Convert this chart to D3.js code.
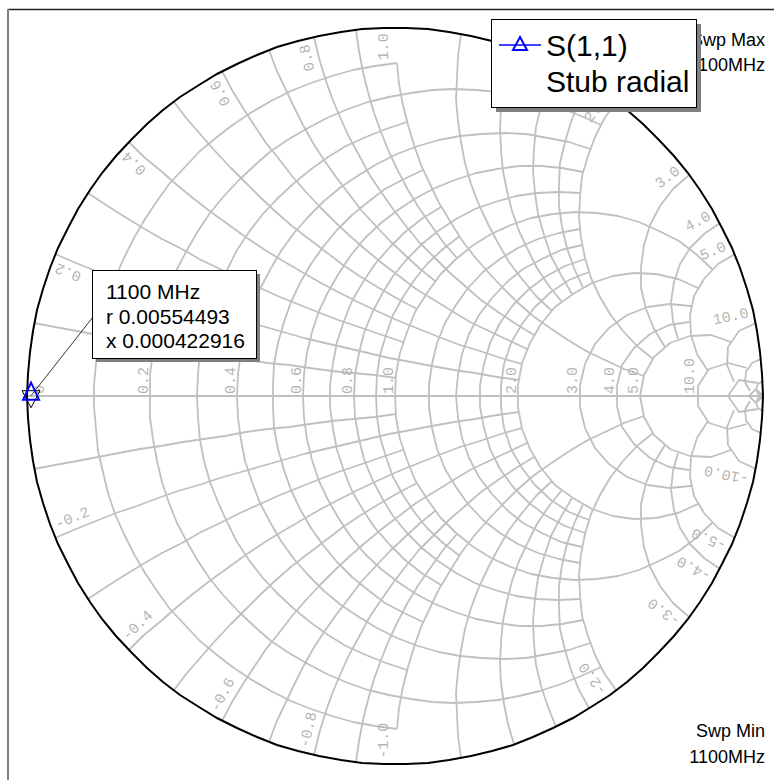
<!DOCTYPE html>
<html><head><meta charset="utf-8">
<script src="https://cdn.jsdelivr.net/npm/d3@7"></script>
<style>html,body{margin:0;padding:0;background:#fff}svg{display:block}</style>
</head><body>
<script>
// S(1,1) of the radial stub: one sweep point, normalised impedance
const freqMHz = [1100];
const normR = [0.00554493];
const normX = [0.000422916];

// Constant-resistance circles: [r, largest |x| the circle is drawn to]
const resistanceGrid = [
  [0.1, 1], [0.2, 2], [0.3, 1], [0.4, 2], [0.5, 1], [0.6, 2], [0.7, 1], [0.8, 2], [0.9, 1],
  [1.0, 5], [1.2, 2], [1.4, 2], [1.6, 2], [1.8, 2], [2.0, 5], [3.0, 5], [4.0, 5],
  [5.0, 10], [10, 20], [20, 50], [50, Infinity]
];
// Constant-reactance arcs: [x, r start, r end] (mirrored for -x)
const reactanceGrid = [
  [0.1, 0, 1], [0.2, 0, 2], [0.3, 0, 1], [0.4, 0, 2], [0.5, 0, 1], [0.6, 0, 2], [0.7, 0, 1],
  [0.8, 0, 2], [0.9, 0, 1], [1.0, 0.1, 5], [1.2, 0, 2], [1.4, 0, 2], [1.6, 0, 2], [1.8, 0, 2],
  [2.0, 0, 5], [3.0, 0, 5], [4.0, 0, 5], [5.0, 0, 10], [10, 0, 20], [20, 0, 50], [50, 0, Infinity]
];
const resistanceLabels = [0.2, 0.4, 0.6, 0.8, 1.0, 2.0, 3.0, 4.0, 5.0, 10.0];
const reactanceLabels = [0.2, 0.4, 0.6, 0.8, 1.0, 2.0, 3.0, 4.0, 5.0, 10.0];
const legendLines = ["S(1,1)", "Stub radial"];

const W = 774, H = 780;
const cx = 395, cy = 396, R = 368;
const sx = d3.scaleLinear().domain([-1, 1]).range([cx - R, cx + R]);
const sy = d3.scaleLinear().domain([-1, 1]).range([cy + R, cy - R]);

const svg = d3.select("body").append("svg").attr("width", W).attr("height", H);

// reflection coefficient of z = r + jx
function gamma(r, x) {
  if (!isFinite(r)) return [1, 0];
  const a = r - 1, c = r + 1, den = c * c + x * x;
  return [(a * c + x * x) / den, (x * c - a * x) / den];
}
const line = d3.line().x(d => Math.round(sx(d[0]))).y(d => Math.round(sy(d[1])));

function arcPoints(cu, cv, rad, a0, a1) {
  const len = Math.abs(a1 - a0) * rad * R;
  const n = Math.max(4, Math.ceil(len / 22));
  return d3.range(n + 1).map(i => {
    const a = a0 + (a1 - a0) * i / n;
    return [cu + rad * Math.cos(a), cv + rad * Math.sin(a)];
  });
}

const grid = svg.append("g").attr("fill", "none").attr("stroke", "#c0c0c0").attr("stroke-width", 1.8)
  .attr("stroke-linejoin", "round");

resistanceGrid.forEach(([r, lim]) => {
  const cu = r / (1 + r), rad = 1 / (1 + r);
  let a1 = 0;
  if (isFinite(lim)) { const g = gamma(r, lim); a1 = Math.atan2(g[1], g[0] - cu); }
  grid.append("path").attr("d", line(arcPoints(cu, 0, rad, a1, 2 * Math.PI - a1)));
});

reactanceGrid.forEach(([x, r0, r1]) => {
  [x, -x].forEach(xx => {
    const cv = 1 / xx, rad = 1 / Math.abs(xx);
    const g0 = gamma(r0, xx), g1 = gamma(r1, xx);
    const a0 = Math.atan2(g0[1] - cv, g0[0] - 1);
    let a1 = Math.atan2(g1[1] - cv, g1[0] - 1);
    let d = a1 - a0;
    while (d > Math.PI) d -= 2 * Math.PI;
    while (d < -Math.PI) d += 2 * Math.PI;
    grid.append("path").attr("d", line(arcPoints(1, cv, rad, a0, a0 + d)));
  });
});

// real axis
grid.append("path").attr("d", line([[-1, 0], [1, 0]]));

// grid labels
const lab = svg.append("g").attr("font-family", "'Liberation Mono', 'Courier New', monospace")
  .attr("font-size", 15).attr("fill", "#b4b4b4");

lab.append("text").attr("transform", `translate(${sx(-0.955)},${cy - 2}) rotate(-90)`).text("0");
resistanceLabels.forEach(r => {
  const px = sx((r - 1) / (r + 1));
  lab.append("text").attr("transform", `translate(${px - 2},${cy - 2}) rotate(-90)`)
    .text(r.toFixed(1));
});

reactanceLabels.forEach(x => {
  const th = 2 * Math.atan(1 / x);
  const rho = 0.986, off = 7 / (rho * R);
  // upper half: reads outward, ends at the rim
  const ap = th + off;
  lab.append("text").attr("text-anchor", "end")
    .attr("transform", `translate(${cx + rho * R * Math.cos(ap)},${cy - rho * R * Math.sin(ap)}) rotate(${-th * 180 / Math.PI})`)
    .text(x.toFixed(1));
  // lower half: starts at the rim, reads inward
  const tn = -th, an = tn - off;
  const rot = Math.atan2(Math.sin(tn), -Math.cos(tn)) * 180 / Math.PI;
  lab.append("text").attr("text-anchor", "start")
    .attr("transform", `translate(${cx + rho * R * Math.cos(an)},${cy - rho * R * Math.sin(an)}) rotate(${rot})`)
    .text("-" + x.toFixed(1));
});

// outer rim
svg.append("path").attr("fill", "none").attr("stroke", "#000").attr("stroke-width", 2)
  .attr("d", line(arcPoints(0, 0, 1, 0, 2 * Math.PI)));

// frame
svg.append("line").attr("x1", 8).attr("x2", W).attr("y1", 9.5).attr("y2", 9.5).attr("stroke", "#222").attr("stroke-width", 1.5);
svg.append("line").attr("x1", 8).attr("x2", 8).attr("y1", 9).attr("y2", H).attr("stroke", "#808080").attr("stroke-width", 2);

// trace point with markers
const pts = freqMHz.map((f, i) => gamma(normR[i], normX[i]));
const px0 = sx(pts[0][0]), py0 = sy(pts[0][1]);

// sweep annotations (drawn before the legend, which overlaps the top pair)
const sw = svg.append("g").attr("font-family", "'Liberation Sans', Arial, sans-serif").attr("font-size", 18).attr("fill", "#000").attr("text-anchor", "end");
[["Swp Max", 46], [`${freqMHz[0]}MHz`, 71], ["Swp Min", 737], [`${freqMHz[0]}MHz`, 763]].forEach(([t, y]) =>
  sw.append("text").attr("x", 765).attr("y", y).text(t));

// marker readout
svg.append("line").attr("x1", px0).attr("y1", py0).attr("x2", 93).attr("y2", 317).attr("stroke", "#000").attr("stroke-width", 0.8);
svg.append("rect").attr("x", 96).attr("y", 274).attr("width", 164).attr("height", 88).attr("fill", "#808080");
svg.append("rect").attr("x", 92.5).attr("y", 270.5).attr("width", 164).attr("height", 88).attr("fill", "#fff").attr("stroke", "#000");
const tip = svg.append("g").attr("font-family", "'Liberation Sans', Arial, sans-serif").attr("font-size", 21).attr("fill", "#000");
[`${freqMHz[0]} MHz`, `r ${normR[0]}`, `x ${normX[0]}`].forEach((t, i) =>
  tip.append("text").attr("x", 106).attr("y", 299 + i * 24.5).text(t));

svg.append("path").attr("fill", "none").attr("stroke", "#000").attr("stroke-width", 1)
  .attr("d", `M${px0 - 9},${py0 - 5}L${px0 + 9},${py0 - 5}L${px0},${py0 + 12}Z`);
svg.append("path").attr("fill", "none").attr("stroke", "#0000ff").attr("stroke-width", 2)
  .attr("d", `M${px0},${py0 - 13}L${px0 + 8},${py0 + 4}L${px0 - 8},${py0 + 4}Z`);

// legend
svg.append("rect").attr("x", 496).attr("y", 24).attr("width", 205).attr("height", 88).attr("fill", "#808080");
svg.append("rect").attr("x", 491.5).attr("y", 19.5).attr("width", 205).attr("height", 88).attr("fill", "#fff").attr("stroke", "#000");
svg.append("line").attr("x1", 499).attr("x2", 541).attr("y1", 45).attr("y2", 45).attr("stroke", "#0000ff").attr("stroke-width", 1.5);
svg.append("path").attr("fill", "none").attr("stroke", "#0000ff").attr("stroke-width", 2)
  .attr("d", "M520,37L527,50L513,50Z");
const lg = svg.append("g").attr("font-family", "'Liberation Sans', Arial, sans-serif").attr("fill", "#000").attr("font-size", 30);
lg.append("text").attr("x", 546).attr("y", 56).text(legendLines[0]);
lg.append("text").attr("x", 546).attr("y", 92).text(legendLines[1]);
</script>
</body></html>
